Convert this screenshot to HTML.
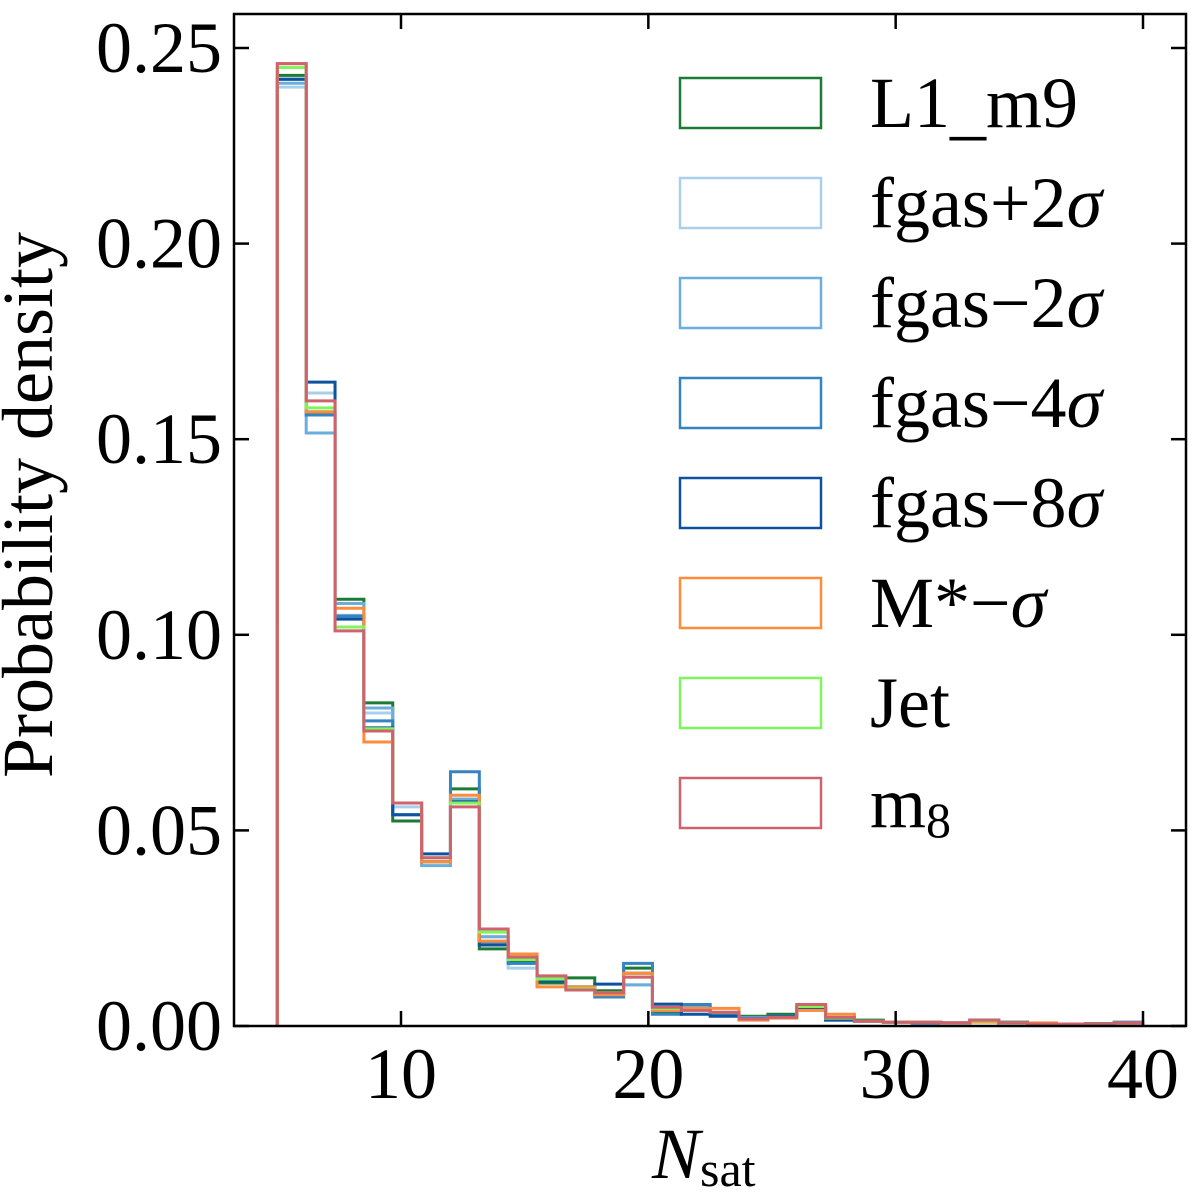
<!DOCTYPE html>
<html><head><meta charset="utf-8"><style>
html,body{margin:0;padding:0;background:#fff;overflow:hidden;}
svg{display:block;}
text{font-family:"Liberation Serif",serif;fill:#000;}
</style></head><body>
<svg id="chart" width="1200" height="1198" viewBox="0 0 1200 1198">
<g id="series"></g>
<rect x="234" y="14" width="952" height="1012" fill="none" stroke="#000" stroke-width="2.5"/>
<g id="ticks"></g>
<g id="legend"></g>
<text x="0" y="0" font-size="72" text-anchor="middle" transform="translate(52,505) rotate(-90)">Probability density</text>
<text x="652" y="1178" font-size="72" font-style="italic">N<tspan font-style="normal" font-size="50" dy="8">sat</tspan></text>
</svg>
<script>
const edgesStart = 5, edgesEnd = 40, nBins = 30;
const xTicks = [10, 20, 30, 40];
const yTicks = [0, 0.05, 0.10, 0.15, 0.20, 0.25];
const yTickLabels = ["0.00", "0.05", "0.10", "0.15", "0.20", "0.25"];
const seriesNames = ["L1_m9", "fgas+2σ", "fgas−2σ", "fgas−4σ", "fgas−8σ", "M*−σ", "Jet", "m8"];
const seriesColors = ["#1b7a34", "#a9d0ea", "#6aaedb", "#3484c2", "#0c529e", "#fd8d3c", "#7ef55a", "#d0626e"];
const L1_m9 = [0.243,0.157,0.1091,0.0826,0.0524,0.042,0.0606,0.0197,0.0165,0.011,0.0123,0.009,0.0148,0.0036,0.0045,0.003,0.0025,0.003,0.0045,0.002,0.0015,0.001,0.001,0.0008,0.0012,0.001,0.0006,0.0005,0.0006,0.0008];
const fgas_p2 = [0.240,0.1618,0.105,0.080,0.056,0.042,0.058,0.0228,0.0148,0.0125,0.010,0.008,0.0105,0.0045,0.005,0.003,0.002,0.0025,0.004,0.0018,0.0012,0.001,0.001,0.0008,0.0012,0.0008,0.0005,0.0005,0.0005,0.0007];
const fgas_m2 = [0.241,0.1516,0.108,0.0813,0.057,0.041,0.058,0.0228,0.016,0.0125,0.0095,0.0075,0.0105,0.004,0.005,0.003,0.0022,0.0025,0.0045,0.0015,0.0012,0.001,0.0008,0.0008,0.0015,0.0008,0.0005,0.0005,0.0005,0.0008];
const fgas_m4 = [0.242,0.1562,0.1048,0.078,0.054,0.042,0.065,0.0215,0.016,0.0115,0.0095,0.0074,0.016,0.003,0.0055,0.003,0.002,0.0025,0.005,0.0018,0.0012,0.001,0.001,0.0008,0.0015,0.0008,0.0005,0.0005,0.0005,0.001];
const fgas_m8 = [0.242,0.1646,0.104,0.0762,0.054,0.044,0.0573,0.0207,0.0171,0.0115,0.010,0.0107,0.0135,0.0056,0.003,0.0025,0.0018,0.0025,0.0045,0.0015,0.0012,0.001,0.0008,0.0008,0.0015,0.0008,0.0005,0.0005,0.0005,0.0008];
const Mstar_m = [0.246,0.157,0.1068,0.0726,0.057,0.042,0.059,0.0217,0.0184,0.010,0.010,0.008,0.0135,0.004,0.0045,0.0045,0.0015,0.002,0.004,0.003,0.0012,0.001,0.001,0.0008,0.001,0.0008,0.0008,0.0005,0.0005,0.0007];
const Jet = [0.245,0.158,0.102,0.076,0.057,0.043,0.057,0.024,0.017,0.012,0.0095,0.0085,0.0125,0.0045,0.004,0.0035,0.0018,0.0022,0.005,0.002,0.0012,0.001,0.001,0.0008,0.0013,0.0008,0.0005,0.0005,0.0005,0.0008];
const m8 = [0.246,0.1598,0.101,0.0754,0.057,0.043,0.056,0.0248,0.0176,0.0128,0.0092,0.0085,0.0125,0.0048,0.004,0.0035,0.0018,0.0022,0.0055,0.0022,0.0012,0.001,0.001,0.0008,0.0015,0.0008,0.0005,0.0005,0.0005,0.0008];
const seriesValues = [L1_m9, fgas_p2, fgas_m2, fgas_m4, fgas_m8, Mstar_m, Jet, m8];

const NS = "http://www.w3.org/2000/svg";
const X0 = 401, X1 = 1143, Y0 = 1026, Y1 = 48;
function xs(v){ return X0 + (v - 10) * (X1 - X0) / 30; }
function ys(v){ return Y0 + v * (Y1 - Y0) / 0.25; }
function mk(tag, attrs){ const e = document.createElementNS(NS, tag); for (const k in attrs) e.setAttribute(k, attrs[k]); return e; }

const sg = document.getElementById('series');
const w = (edgesEnd - edgesStart) / nBins;
seriesValues.forEach((vals, si) => {
  let d = `M${xs(edgesStart)},${ys(0)}`;
  vals.forEach((v, i) => {
    const a = edgesStart + i * w, b = a + w;
    d += ` L${xs(a)},${ys(v)} L${xs(b)},${ys(v)}`;
  });
  d += ` L${xs(edgesEnd)},${ys(0)}`;
  const p = mk('path', {d: d, fill: 'none', stroke: seriesColors[si], 'stroke-width': 3});
  
  
  sg.appendChild(p);
});

const tg = document.getElementById('ticks');
xTicks.forEach(t => {
  const x = xs(t);
  const l1 = mk('line', {x1: x, x2: x, y1: 1026, y2: 1011, stroke: '#000', 'stroke-width': 2.5});
  
  
  tg.appendChild(l1);
  const l2 = mk('line', {x1: x, x2: x, y1: 14, y2: 29, stroke: '#000', 'stroke-width': 2.5});
  
  
  tg.appendChild(l2);
  const tx = mk('text', {x: x, y: 1098, 'font-size': 72, 'text-anchor': 'middle'});
  tx.textContent = String(t);
  
  
  tg.appendChild(tx);
});
yTicks.forEach((t, i) => {
  const y = ys(t);
  const l1 = mk('line', {x1: 234, x2: 249, y1: y, y2: y, stroke: '#000', 'stroke-width': 2.5});
  
  
  tg.appendChild(l1);
  const l2 = mk('line', {x1: 1186, x2: 1171, y1: y, y2: y, stroke: '#000', 'stroke-width': 2.5});
  
  
  tg.appendChild(l2);
  const tx = mk('text', {x: 222, y: y + 24, 'font-size': 72, 'text-anchor': 'end'});
  tx.textContent = yTickLabels[i];
  
  
  tg.appendChild(tx);
});

const lg = document.getElementById('legend');
seriesNames.forEach((n, i) => {
  const cy = 103 + i * 100;
  const r = mk('rect', {x: 680, y: cy - 25, width: 141, height: 50, fill: 'none', stroke: seriesColors[i], 'stroke-width': 2.5});
  
  
  lg.appendChild(r);
  const t = mk('text', {x: 870, y: cy + 24, 'font-size': 72});
  if (n === 'm8') {
    t.innerHTML = 'm<tspan font-size="50" dy="10">8</tspan>';
  } else if (n.indexOf('σ') >= 0) {
    const base = n.replace('σ', '');
    t.innerHTML = base + '<tspan font-style="italic">σ</tspan>';
  } else if (n === 'L1_m9') {
    t.innerHTML = 'L1<tspan dy="4">_</tspan><tspan dy="-4">m9</tspan>';
  } else {
    t.textContent = n;
  }
  
  
  lg.appendChild(t);
});
</script>
</body></html>
